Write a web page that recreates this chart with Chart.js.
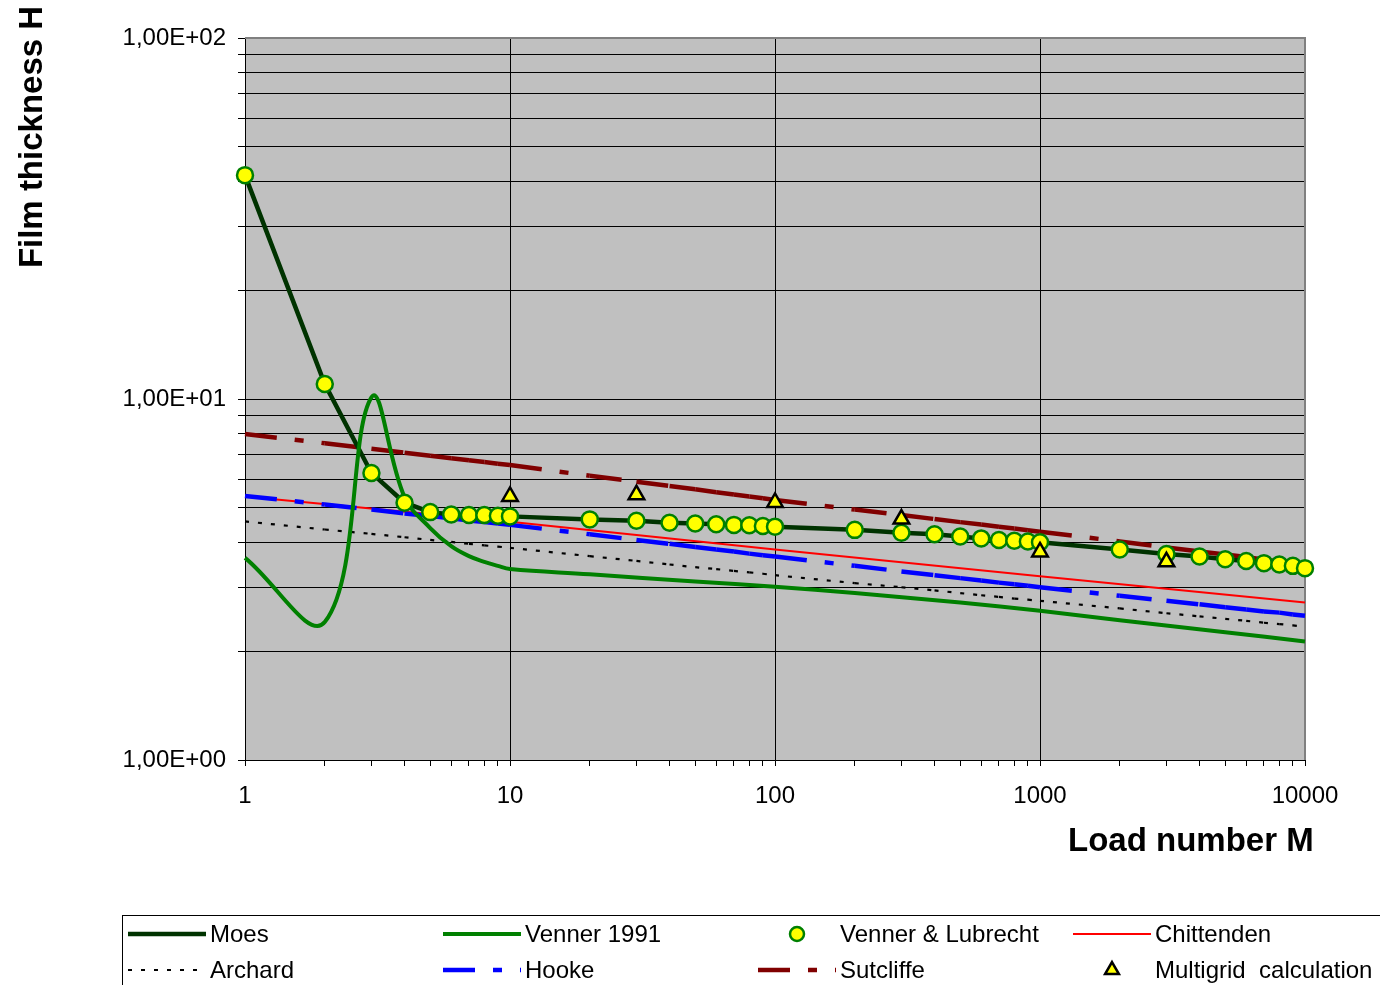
<!DOCTYPE html>
<html>
<head>
<meta charset="utf-8">
<title>Film thickness vs load number</title>
<script src="https://cdn.jsdelivr.net/npm/chart.js@4"></script>
<style>
  html, body { margin: 0; padding: 0; background: #ffffff; }
  #wrap { width: 1380px; height: 985px; }
</style>
</head>
<body>
<div id="wrap"><canvas id="chart" width="1380" height="985"></canvas></div>
<script>
// Load numbers used for the Venner & Lubrecht points and the power-law curves
const loadM = [1, 2, 3, 4, 5, 6, 7, 8, 9, 10,
  20, 30, 40, 50, 60, 70, 80, 90, 100,
  200, 300, 400, 500, 600, 700, 800, 900, 1000,
  2000, 3000, 4000, 5000, 6000, 7000, 8000, 9000, 10000];

const moesH = [41.7, 11.0, 6.24, 5.16, 4.86, 4.79, 4.77, 4.77, 4.75, 4.73,
  4.64, 4.60, 4.54, 4.52, 4.50, 4.48, 4.47, 4.45, 4.43,
  4.34, 4.26, 4.22, 4.16, 4.11, 4.07, 4.05, 4.03, 4.01,
  3.83, 3.72, 3.66, 3.60, 3.56, 3.51, 3.48, 3.45, 3.40];

const vennerLubrechtH = [41.7, 11.0, 6.24, 5.16, 4.86, 4.79, 4.77, 4.77, 4.75, 4.73,
  4.64, 4.60, 4.54, 4.52, 4.50, 4.48, 4.47, 4.45, 4.43,
  4.34, 4.26, 4.22, 4.16, 4.11, 4.07, 4.05, 4.03, 4.01,
  3.83, 3.72, 3.66, 3.60, 3.56, 3.51, 3.48, 3.45, 3.40];

const archardH = [4.58, 4.35, 4.23, 4.14, 4.07, 4.02, 3.97, 3.93, 3.90, 3.87,
  3.67, 3.56, 3.48, 3.42, 3.38, 3.34, 3.31, 3.28, 3.25,
  3.09, 3.01, 2.95, 2.90, 2.86, 2.83, 2.80, 2.78, 2.76,
  2.63, 2.55, 2.50, 2.46, 2.43, 2.40, 2.38, 2.36, 2.34];

const hookeH = [5.39, 5.10, 4.94, 4.82, 4.74, 4.67, 4.61, 4.56, 4.52, 4.48,
  4.22, 4.07, 3.97, 3.89, 3.83, 3.78, 3.73, 3.69, 3.66,
  3.45, 3.33, 3.25, 3.19, 3.14, 3.10, 3.07, 3.04, 3.01,
  2.85, 2.76, 2.70, 2.65, 2.61, 2.58, 2.56, 2.53, 2.51];

const sutcliffeH = [8.00, 7.54, 7.28, 7.10, 6.96, 6.85, 6.77, 6.69, 6.62, 6.56,
  6.13, 5.90, 5.74, 5.62, 5.52, 5.44, 5.37, 5.31, 5.25,
  4.94, 4.77, 4.65, 4.56, 4.49, 4.43, 4.38, 4.33, 4.29,
  4.03, 3.88, 3.78, 3.71, 3.65, 3.59, 3.55, 3.51, 3.48];

const venner1991M = [1, 2, 3, 4, 5, 6, 7, 8, 9, 10, 20, 50, 100, 200, 500, 1000, 2000, 5000, 10000];
const venner1991H = [3.63, 2.41, 10.1, 5.35, 4.39, 3.91, 3.67, 3.54, 3.45, 3.38, 3.27, 3.12, 3.02, 2.90, 2.73, 2.59, 2.44, 2.26, 2.13];

const chittendenM = [1, 10, 100, 1000, 10000];
const chittendenH = [5.37, 4.57, 3.83, 3.23, 2.73];

const multigridM = [10, 30, 100, 300, 1000, 3000];
const multigridH = [5.37, 5.43, 5.17, 4.65, 3.77, 3.54];

const xTickValues = [1, 10, 100, 1000, 10000];
const xTickLabels = ['1', '10', '100', '1000', '10000'];
const yTickValues = [1, 10, 100];
const yTickLabels = ['1,00E+00', '1,00E+01', '1,00E+02'];

const xTitle = 'Load number M';
const yTitle = 'Film thickness H';

const FONT = "'Liberation Sans', Arial, sans-serif";

function pairs(xs, ys) {
    return xs.map((x, i) => ({ x: x, y: ys[i] }));
}

// 1..9 in every decade between lo and hi, for the grid and minor ticks
function decadeSteps(lo, hi) {
    const out = [];
    for (let p = lo; p < hi; p *= 10) {
        for (let k = 1; k < 10; k++) out.push(k * p);
    }
    out.push(hi);
    return out;
}

// Excel restarts the dash pattern at every data point; force one path per segment
const restartDash = {
    borderDashOffset: ctx => (ctx.p0DataIndex % 2) * 0.01
};

function drawMarker(ctx, ds, x, y, r) {
    ctx.save();
    ctx.fillStyle = ds.pointBackgroundColor;
    ctx.strokeStyle = ds.pointBorderColor;
    ctx.lineWidth = ds.pointBorderWidth;
    ctx.beginPath();
    if (ds.pointStyle === 'triangle') {
        for (let i = 0; i < 3; i++) {
            const a = i * 2 * Math.PI / 3;
            const px = x + Math.sin(a) * r, py = y - Math.cos(a) * r;
            if (i === 0) ctx.moveTo(px, py); else ctx.lineTo(px, py);
        }
        ctx.closePath();
    } else {
        ctx.arc(x, y, r, 0, Math.PI * 2);
    }
    ctx.fill();
    ctx.stroke();
    ctx.restore();
}

const legendRows = [
    ['Moes', 'Venner 1991', 'Venner & Lubrecht', 'Chittenden'],
    ['Archard', 'Hooke', 'Sutcliffe', 'Multigrid  calculation']
];

const plotFrame = {
    id: 'plotFrame',
    beforeDraw(chart) {
        const { ctx, chartArea: a } = chart;
        ctx.save();
        ctx.fillStyle = '#c0c0c0';
        ctx.fillRect(a.left, a.top, a.right - a.left, a.bottom - a.top);
        ctx.restore();
    },
    beforeDatasetsDraw(chart) {
        const { ctx, chartArea: a } = chart;
        ctx.save();
        ctx.strokeStyle = '#808080';
        ctx.lineWidth = 2;
        ctx.beginPath();
        ctx.moveTo(a.left, a.top);
        ctx.lineTo(a.right, a.top);
        ctx.lineTo(a.right, a.bottom);
        ctx.stroke();
        ctx.restore();
    },
    afterDraw(chart) {
        const ctx = chart.ctx;
        ctx.save();
        ctx.fillStyle = '#000';
        ctx.font = 'bold 33px ' + FONT;
        ctx.textAlign = 'left';
        ctx.textBaseline = 'alphabetic';
        ctx.fillText(xTitle, 1068, 851);
        ctx.translate(42, 137);
        ctx.rotate(-Math.PI / 2);
        ctx.textAlign = 'center';
        ctx.fillText(yTitle, 0, 0);
        ctx.restore();

        // legend box, cut by the right and bottom edges like the original
        ctx.save();
        ctx.strokeStyle = '#000';
        ctx.lineWidth = 1;
        ctx.strokeRect(122.5, 915.5, 1400, 120);
        const colX = [128, 443, 758, 1073];
        const rowY = [934, 970];
        legendRows.forEach((row, r) => {
            row.forEach((label, c) => {
                const ds = chart.data.datasets.find(d => d.label === label);
                const x = colX[c], y = rowY[r];
                if (ds.showLine === false) {
                    drawMarker(ctx, ds, x + 39, y, ds.pointStyle === 'triangle' ? 8 : 7);
                } else {
                    ctx.save();
                    ctx.strokeStyle = ds.borderColor;
                    ctx.lineWidth = ds.borderWidth;
                    ctx.setLineDash(ds.borderDash || []);
                    ctx.beginPath();
                    ctx.moveTo(x, y);
                    ctx.lineTo(x + 78, y);
                    ctx.stroke();
                    ctx.restore();
                }
                ctx.fillStyle = '#000';
                ctx.font = '24px ' + FONT;
                ctx.textAlign = 'left';
                ctx.textBaseline = 'middle';
                ctx.fillText(label, x + 82, y + 1);
            });
        });
        ctx.restore();
    }
};

Chart.defaults.font.family = FONT;
Chart.defaults.color = '#000';

new Chart(document.getElementById('chart'), {
    type: 'line',
    data: {
        datasets: [{
            label: 'Moes',
            data: pairs(loadM, moesH),
            borderColor: '#003300',
            borderWidth: 4.5,
            pointRadius: 0,
            fill: false,
            order: 3
        }, {
            label: 'Venner 1991',
            data: pairs(venner1991M, venner1991H),
            borderColor: '#008000',
            borderWidth: 4,
            tension: 0.4,
            pointRadius: 0,
            fill: false,
            order: 2
        }, {
            label: 'Venner & Lubrecht',
            data: pairs(loadM, vennerLubrechtH),
            showLine: false,
            pointStyle: 'circle',
            pointRadius: 8,
            pointBorderWidth: 2.5,
            pointBackgroundColor: '#ffff00',
            pointBorderColor: '#008000',
            order: 1
        }, {
            label: 'Chittenden',
            data: pairs(chittendenM, chittendenH),
            borderColor: '#ff0000',
            borderWidth: 2,
            pointRadius: 0,
            fill: false,
            order: 7
        }, {
            label: 'Archard',
            data: pairs(loadM, archardH),
            borderColor: '#000000',
            borderWidth: 2.2,
            borderDash: [4, 9],
            segment: restartDash,
            pointRadius: 0,
            fill: false,
            order: 6
        }, {
            label: 'Hooke',
            data: pairs(loadM, hookeH),
            borderColor: '#0000ff',
            borderWidth: 4.5,
            borderDash: [32, 18, 9, 18],
            segment: restartDash,
            pointRadius: 0,
            fill: false,
            order: 5
        }, {
            label: 'Sutcliffe',
            data: pairs(loadM, sutcliffeH),
            borderColor: '#800000',
            borderWidth: 4.5,
            borderDash: [32, 18, 9, 18],
            segment: restartDash,
            pointRadius: 0,
            fill: false,
            order: 4
        }, {
            label: 'Multigrid  calculation',
            data: pairs(multigridM, multigridH),
            showLine: false,
            pointStyle: 'triangle',
            pointRadius: 9,
            pointBorderWidth: 2.5,
            pointBackgroundColor: '#ffff00',
            pointBorderColor: '#000000',
            order: 0
        }]
    },
    options: {
        responsive: false,
        animation: false,
        clip: false,
        layout: { padding: { left: 0, top: 38, right: 75, bottom: 0 } },
        plugins: {
            legend: { display: false },
            tooltip: { enabled: false }
        },
        scales: {
            x: {
                type: 'logarithmic',
                min: 1,
                max: 10000,
                afterFit(s) { s.height = 225; },
                afterBuildTicks(s) { s.ticks = decadeSteps(1, 10000).map(v => ({ value: v })); },
                ticks: {
                    autoSkip: false,
                    maxRotation: 0,
                    padding: 16,
                    color: '#000',
                    font: { size: 24 },
                    callback: v => {
                        const i = xTickValues.indexOf(v);
                        return i >= 0 ? xTickLabels[i] : '';
                    }
                },
                grid: {
                    color: ctx => (ctx.tick && xTickValues.includes(ctx.tick.value)) ? '#000' : 'rgba(0,0,0,0)',
                    tickColor: '#000',
                    lineWidth: 1,
                    tickLength: 6
                },
                border: { color: '#000', width: 1 }
            },
            y: {
                type: 'logarithmic',
                min: 1,
                max: 100,
                afterFit(s) { s.width = 245; },
                afterBuildTicks(s) { s.ticks = decadeSteps(1, 100).map(v => ({ value: v })); },
                ticks: {
                    autoSkip: false,
                    padding: 12,
                    color: '#000',
                    font: { size: 24 },
                    callback: v => {
                        const i = yTickValues.indexOf(v);
                        return i >= 0 ? yTickLabels[i] : '';
                    }
                },
                grid: {
                    color: '#000',
                    tickColor: '#000',
                    lineWidth: 1,
                    tickLength: 7
                },
                border: { color: '#000', width: 1 }
            }
        }
    },
    plugins: [plotFrame]
});
</script>
</body>
</html>
